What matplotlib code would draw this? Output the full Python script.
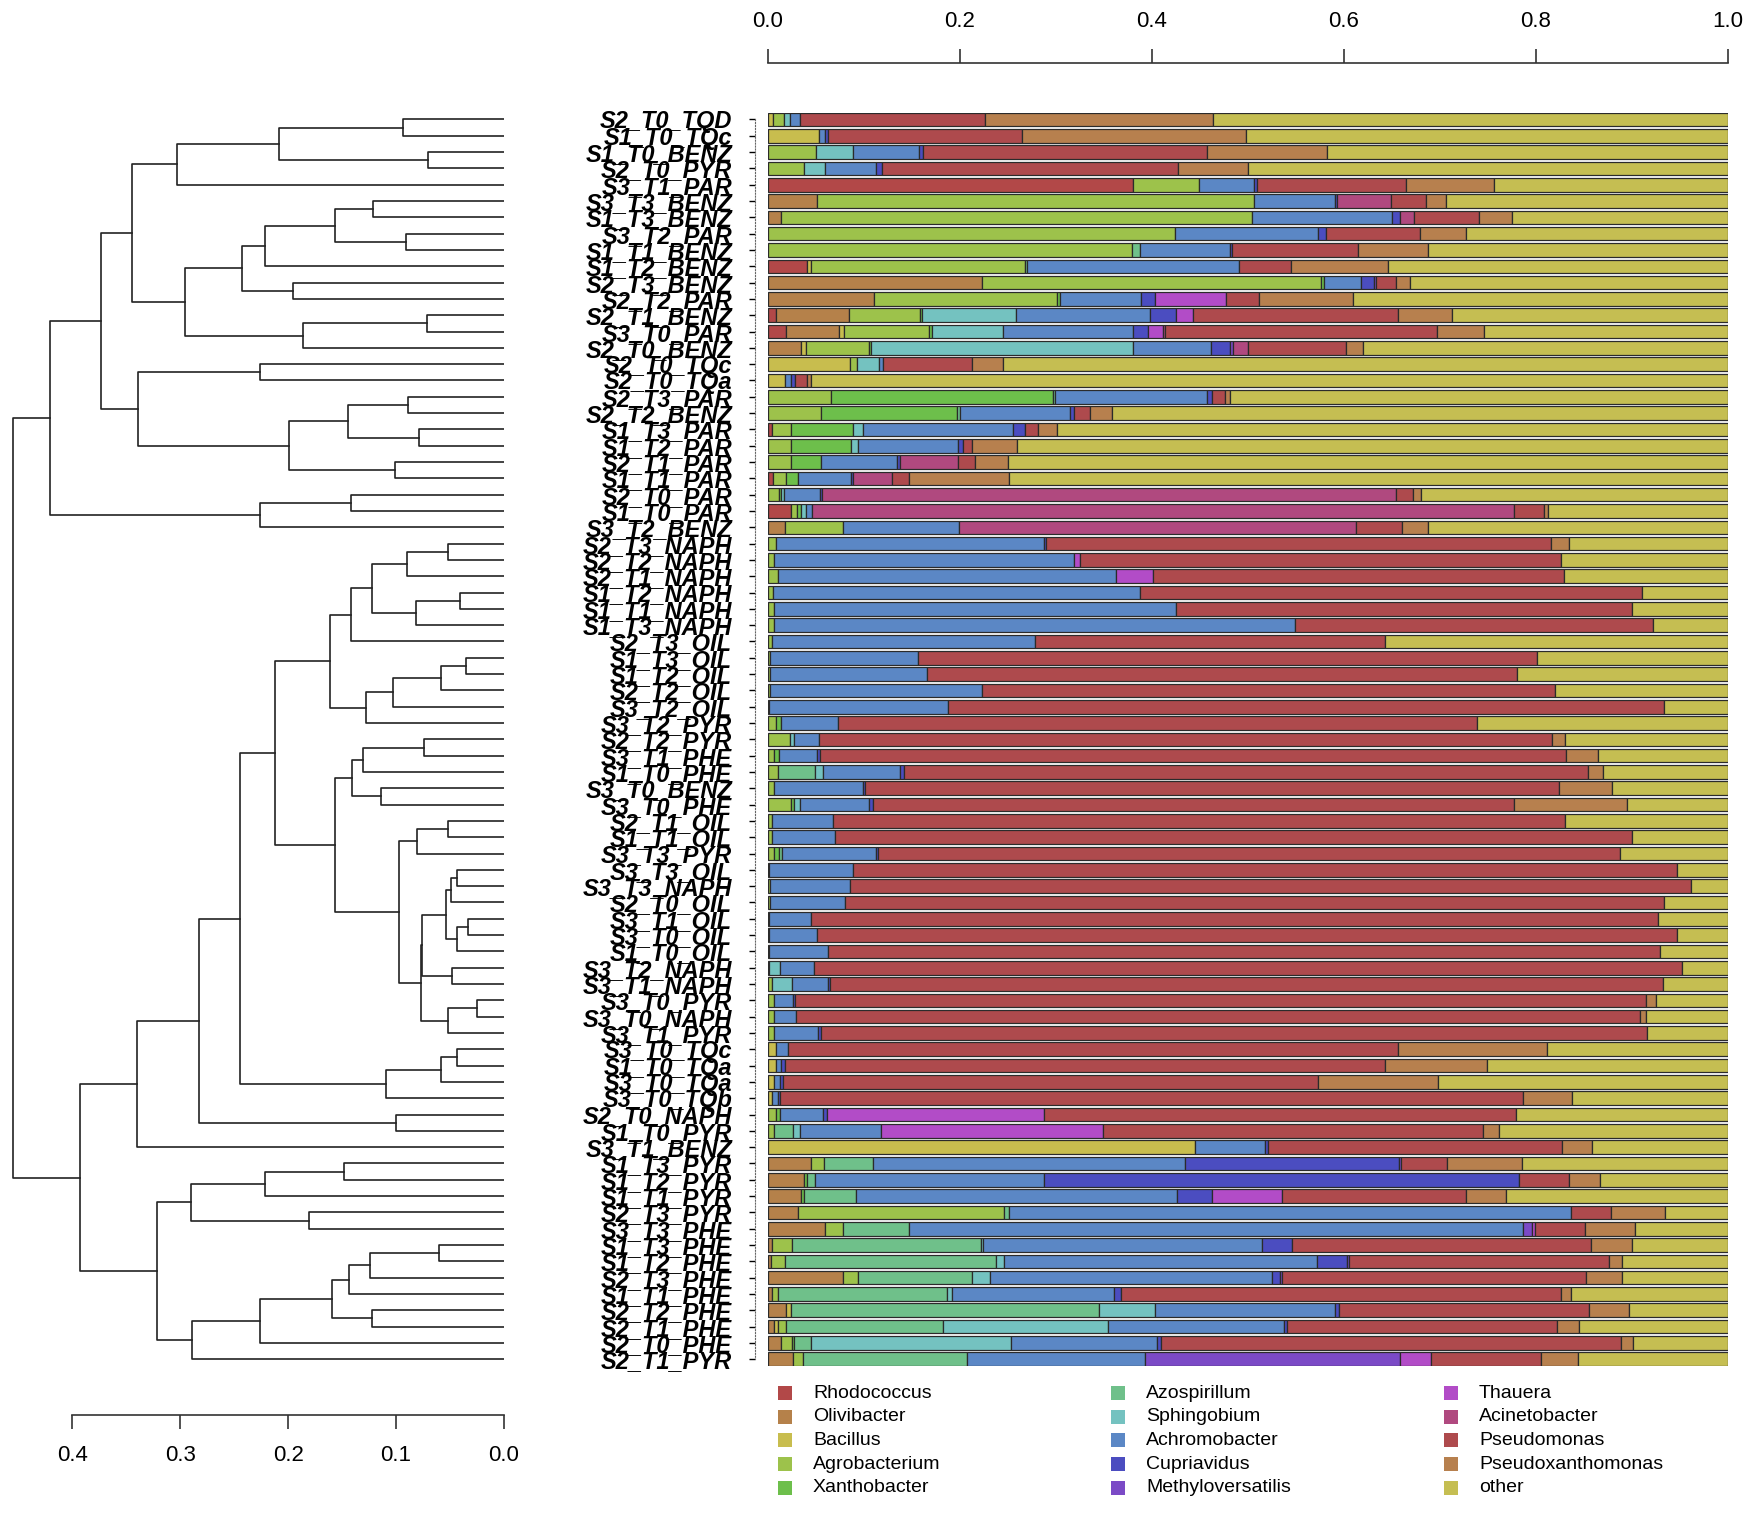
import numpy as np
import matplotlib
matplotlib.use('Agg')
import matplotlib.pyplot as plt
from matplotlib.patches import Rectangle

plt.rcParams['font.family'] = ['Liberation Sans', 'DejaVu Sans']

# sample order (top to bottom), as in the dendrogram
samples = ['S2_T0_TQD', 'S1_T0_TQc', 'S1_T0_BENZ', 'S2_T0_PYR', 'S3_T1_PAR', 'S3_T3_BENZ', 'S1_T3_BENZ',
           'S3_T2_PAR', 'S1_T1_BENZ', 'S1_T2_BENZ', 'S2_T3_BENZ', 'S2_T2_PAR', 'S2_T1_BENZ', 'S3_T0_PAR',
           'S2_T0_BENZ', 'S2_T0_TQc', 'S2_T0_TQa', 'S2_T3_PAR', 'S2_T2_BENZ', 'S1_T3_PAR', 'S1_T2_PAR',
           'S2_T1_PAR', 'S1_T1_PAR', 'S2_T0_PAR', 'S1_T0_PAR', 'S3_T2_BENZ', 'S2_T3_NAPH', 'S2_T2_NAPH',
           'S2_T1_NAPH', 'S1_T2_NAPH', 'S1_T1_NAPH', 'S1_T3_NAPH', 'S2_T3_OIL', 'S1_T3_OIL', 'S1_T2_OIL',
           'S2_T2_OIL', 'S3_T2_OIL', 'S3_T2_PYR', 'S2_T2_PYR', 'S3_T1_PHE', 'S1_T0_PHE', 'S3_T0_BENZ',
           'S3_T0_PHE', 'S2_T1_OIL', 'S1_T1_OIL', 'S3_T3_PYR', 'S3_T3_OIL', 'S3_T3_NAPH', 'S2_T0_OIL',
           'S3_T1_OIL', 'S3_T0_OIL', 'S1_T0_OIL', 'S3_T2_NAPH', 'S3_T1_NAPH', 'S3_T0_PYR', 'S3_T0_NAPH',
           'S3_T1_PYR', 'S3_T0_TQc', 'S1_T0_TQa', 'S3_T0_TQa', 'S3_T0_TQb', 'S2_T0_NAPH', 'S1_T0_PYR',
           'S3_T1_BENZ', 'S1_T3_PYR', 'S1_T2_PYR', 'S1_T1_PYR', 'S2_T3_PYR', 'S3_T3_PHE', 'S1_T3_PHE',
           'S1_T2_PHE', 'S2_T3_PHE', 'S1_T1_PHE', 'S2_T2_PHE', 'S2_T1_PHE', 'S2_T0_PHE', 'S2_T1_PYR']

taxa = ['Rhodococcus', 'Olivibacter', 'Bacillus', 'Agrobacterium', 'Xanthobacter',
        'Azospirillum', 'Sphingobium', 'Achromobacter', 'Cupriavidus', 'Methyloversatilis',
        'Thauera', 'Acinetobacter', 'Pseudomonas', 'Pseudoxanthomonas', 'other']

colours = ['#B24848', '#B5814A', '#C8BD4E', '#9DC24B', '#6DBF4B',
           '#6FC08A', '#74C2C0', '#5B87C5', '#4B4DC0', '#7B4AC6',
           '#B24CC7', '#B0497F', '#AE4A4D', '#B7804E', '#C5BE52']

# relative abundance per genus, one value per sample (same order as samples)
rhodococcus = [0, 0, 0, 0, .380, 0, 0, 0, 0, .041,
               0, 0, .008, .019, 0, 0, 0, 0, 0, .004,
               0, 0, .005, 0, .024, 0, 0, 0, 0, 0,
               0, 0, 0, 0, 0, 0, 0, 0, 0, 0,
               0, 0, 0, 0, 0, 0, 0, 0, 0, 0,
               0, 0, 0, 0, 0, 0, 0, 0, 0, 0,
               0, 0, 0, 0, 0, 0, 0, 0, 0, 0,
               0, 0, 0, 0, 0, 0, 0]
olivibacter = [0, 0, 0, 0, 0, .051, .014, 0, 0, 0,
               .223, .110, .076, .055, .034, 0, 0, 0, 0, 0,
               0, 0, 0, 0, 0, .018, 0, 0, 0, 0,
               0, 0, 0, 0, 0, 0, 0, 0, 0, 0,
               0, 0, 0, 0, 0, 0, 0, 0, 0, 0,
               0, 0, 0, 0, 0, 0, 0, 0, 0, 0,
               0, 0, 0, 0, .045, .038, .034, .031, .059, .004,
               .003, .078, .004, .019, .006, .014, .026]
bacillus = [.005, .053, 0, 0, 0, 0, 0, 0, 0, .004,
            0, 0, 0, .005, .006, .085, .018, 0, 0, 0,
            0, 0, 0, 0, 0, 0, 0, 0, 0, 0,
            0, 0, 0, 0, 0, 0, 0, 0, 0, 0,
            0, 0, 0, 0, 0, 0, 0, 0, 0, 0,
            0, 0, 0, 0, 0, 0, 0, .008, .008, .006,
            .004, 0, 0, .445, 0, 0, 0, 0, 0, 0,
            0, 0, 0, .005, .004, 0, 0]
agrobacterium = [.012, 0, .050, .038, .069, .455, .490, .424, .379, .223,
                 .353, .191, .074, .089, .065, .008, 0, .066, .055, .020,
                 .024, .024, .014, .011, .006, .060, .008, .006, .010, .005,
                 .006, .006, .004, .002, .002, .002, .001, .008, .023, .006,
                 .010, .006, .024, .004, .004, .006, .001, .002, .002, .001,
                 .001, .001, .001, .004, .006, .006, .006, 0, 0, 0,
                 0, .008, .006, 0, .013, 0, 0, .215, .019, .021,
                 .015, .016, .006, 0, .009, .011, .010]
xanthobacter = [0, 0, 0, 0, 0, 0, 0, 0, 0, 0,
                .003, .003, .002, .003, .002, 0, 0, .231, .142, .065,
                .062, .031, .012, .003, .004, 0, 0, 0, 0, 0,
                0, 0, 0, 0, 0, 0, 0, .006, 0, .005,
                0, 0, .003, 0, 0, .005, 0, 0, 0, 0,
                0, 0, 0, 0, 0, 0, 0, 0, 0, 0,
                0, .004, 0, 0, 0, .003, .003, 0, 0, 0,
                0, 0, 0, 0, 0, .002, 0]
azospirillum = [0, 0, 0, 0, 0, 0, 0, 0, .008, .002,
                0, 0, 0, 0, 0, 0, 0, .002, .003, 0,
                0, 0, 0, 0, 0, 0, 0, 0, 0, 0,
                0, 0, 0, 0, 0, 0, 0, 0, 0, 0,
                .039, 0, 0, 0, 0, .004, 0, 0, 0, 0,
                0, 0, 0, 0, 0, 0, 0, 0, 0, 0,
                0, 0, .020, 0, .051, .008, .055, .005, .069, .197,
                .220, .119, .176, .321, .163, .018, .171]
sphingobium = [.006, 0, .039, .021, 0, 0, 0, 0, 0, 0,
               0, 0, .098, .074, .273, .023, 0, 0, 0, .010,
               .008, 0, 0, .003, .006, 0, 0, 0, 0, 0,
               0, 0, 0, 0, 0, 0, 0, 0, .004, 0,
               .008, 0, .006, 0, 0, 0, 0, 0, 0, 0,
               0, 0, .011, .021, 0, 0, 0, 0, 0, 0,
               0, 0, .007, 0, 0, 0, 0, 0, 0, .002,
               .008, .018, .006, .058, .172, .208, 0]
achromobacter = [.010, .006, .068, .054, .057, .085, .146, .149, .094, .221,
                 .039, .085, .140, .135, .081, .004, .006, .158, .115, .156,
                 .104, .079, .055, .037, .006, .121, .279, .313, .352, .383,
                 .419, .543, .274, .154, .164, .221, .187, .059, .026, .040,
                 .081, .093, .072, .064, .066, .098, .088, .083, .078, .044,
                 .050, .062, .036, .038, .020, .023, .046, .013, .006, .006,
                 .006, .045, .085, .073, .325, .238, .334, .585, .639, .291,
                 .326, .294, .168, .188, .183, .152, .186]
cupriavidus = [0, .004, .004, .006, .003, .002, .008, .008, .002, 0,
               .013, .014, .027, .016, .020, 0, .004, .006, .004, .013,
               .005, .003, .003, .002, 0, 0, .003, 0, 0, 0,
               0, 0, 0, 0, 0, 0, 0, 0, 0, .003,
               .004, .002, .004, 0, 0, .002, 0, 0, 0, 0,
               0, 0, 0, .002, .002, 0, .003, 0, .004, .004,
               .002, .004, 0, .003, .223, .495, .037, 0, 0, .031,
               .031, .008, .008, .004, .004, .004, 0]
methyloversatilis = [0, 0, 0, 0, 0, 0, 0, 0, 0, 0,
                     .002, 0, 0, 0, .003, 0, 0, 0, 0, 0,
                     0, 0, 0, 0, 0, 0, 0, 0, 0, 0,
                     0, 0, 0, 0, 0, 0, 0, 0, 0, 0,
                     0, 0, 0, 0, 0, 0, 0, 0, 0, 0,
                     0, 0, 0, 0, 0, 0, 0, 0, 0, 0,
                     0, 0, 0, 0, .002, 0, 0, 0, .010, 0,
                     .002, .002, 0, 0, 0, 0, .265]
thauera = [0, 0, 0, 0, 0, 0, 0, 0, 0, 0,
           0, .074, .018, .015, 0, 0, 0, 0, 0, 0,
           0, 0, 0, 0, 0, 0, 0, .006, .039, 0,
           0, 0, 0, 0, 0, 0, 0, 0, 0, 0,
           0, 0, 0, 0, 0, 0, 0, 0, 0, 0,
           0, 0, 0, 0, 0, 0, 0, 0, 0, 0,
           0, .226, .231, 0, 0, 0, .072, 0, .003, 0,
           0, 0, 0, 0, 0, 0, .033]
acinetobacter = [0, 0, 0, 0, 0, .056, .015, 0, 0, 0,
                 0, 0, 0, .003, .016, 0, 0, 0, 0, 0,
                 0, .061, .040, .598, .731, .413, 0, 0, 0, 0,
                 0, 0, 0, 0, 0, 0, 0, 0, 0, 0,
                 0, 0, 0, 0, 0, 0, 0, 0, 0, 0,
                 0, 0, 0, 0, 0, 0, 0, 0, 0, 0,
                 0, 0, 0, 0, 0, 0, 0, 0, 0, 0,
                 0, 0, 0, 0, 0, 0, 0]
pseudomonas = [.193, .202, .296, .308, .156, .036, .068, .098, .132, .054,
               .021, .034, .213, .283, .102, .092, .013, .013, .016, .013,
               .010, .018, .018, .018, .031, .048, .526, .501, .428, .522,
               .475, .373, .365, .645, .614, .597, .745, .666, .764, .777,
               .712, .723, .668, .762, .830, .772, .858, .876, .853, .882,
               .896, .866, .904, .867, .887, .879, .861, .635, .625, .557,
               .774, .492, .396, .306, .048, .052, .192, .042, .052, .311,
               .271, .317, .458, .260, .281, .480, .114]
pseudoxanthomonas = [.238, .233, .125, .073, .091, .021, .034, .048, .072, .101,
                     .015, .098, .057, .049, .018, .033, .004, .005, .023, .020,
                     .046, .034, .104, .008, .005, .028, .018, 0, 0, 0,
                     0, 0, 0, 0, 0, 0, 0, 0, .013, .034,
                     .016, .055, .118, 0, 0, 0, 0, 0, 0, 0,
                     0, 0, 0, 0, .010, .007, 0, .155, .106, .125,
                     .052, 0, .016, .031, .078, .033, .042, .056, .052, .043,
                     .014, .038, .010, .042, .023, .012, .039]
other = [.536, .502, .418, .500, .244, .294, .225, .273, .313, .354,
         .331, .391, .287, .254, .380, .755, .955, .519, .642, .699,
         .741, .750, .749, .320, .187, .312, .166, .174, .171, .090,
         .100, .078, .357, .199, .220, .180, .067, .261, .170, .135,
         .130, .121, .105, .170, .100, .113, .053, .039, .067, .073,
         .053, .071, .048, .068, .075, .085, .084, .189, .251, .302,
         .162, .221, .239, .142, .215, .133, .231, .066, .097, .100,
         .110, .110, .164, .103, .155, .099, .156]

# hierarchical clustering merges: (node a, node b, height); leaves are 0..76
merges = [(0, 1, .094), (2, 3, .070), (77, 78, .209), (79, 4, .303), (5, 6, .121),
          (7, 8, .091), (81, 82, .157), (83, 9, .222), (10, 11, .196), (84, 85, .243),
          (12, 13, .071), (87, 14, .186), (86, 88, .296), (80, 89, .345), (15, 16, .226),
          (17, 18, .089), (19, 20, .079), (92, 93, .145), (21, 22, .101), (94, 95, .199),
          (91, 96, .339), (90, 97, .374), (23, 24, .142), (99, 25, .226), (98, 100, .421),
          (26, 27, .052), (102, 28, .090), (29, 30, .041), (104, 31, .082), (103, 105, .122),
          (106, 32, .142), (33, 34, .035), (108, 35, .058), (109, 36, .103), (110, 37, .128),
          (107, 111, .161), (38, 39, .074), (113, 40, .131), (41, 42, .114), (114, 115, .141),
          (43, 44, .052), (117, 45, .081), (46, 47, .044), (119, 48, .049), (49, 50, .033),
          (121, 51, .044), (120, 122, .054), (52, 53, .048), (123, 124, .0757), (54, 55, .025),
          (126, 56, .052), (125, 127, .0772), (118, 128, .097), (116, 129, .157), (112, 130, .212),
          (57, 58, .044), (132, 59, .058), (133, 60, .109), (131, 134, .245), (61, 62, .100),
          (135, 136, .283), (137, 63, .340), (64, 65, .148), (139, 66, .222), (67, 68, .181),
          (140, 141, .290), (69, 70, .060), (143, 71, .124), (144, 72, .144), (73, 74, .122),
          (145, 146, .159), (147, 75, .226), (148, 76, .289), (142, 149, .322), (138, 150, .393),
          (101, 151, .455)]

series = [rhodococcus, olivibacter, bacillus, agrobacterium, xanthobacter, azospirillum,
          sphingobium, achromobacter, cupriavidus, methyloversatilis, thauera, acinetobacter,
          pseudomonas, pseudoxanthomonas, other]

W, H = 1750, 1525
fig = plt.figure(figsize=(W / 100, H / 100), dpi=100)

n = len(samples)
bar_top, bar_bot = 112.7, 1366.0
ylo, yhi = n - 1 + 0.4167, -0.4167

# ---- stacked bars ----
ax = fig.add_axes([768 / W, 1 - bar_bot / H, 960 / W, (bar_bot - bar_top) / H])
y = np.arange(n)
left = np.zeros(n)
for vals, col in zip(series, colours):
    v = np.array(vals, dtype=float)
    m = v > 0
    ax.barh(y[m], v[m], left=left[m], height=0.833, color=col,
            edgecolor='#2b2b2b', linewidth=0.9)
    left += v
ax.set_xlim(0, 1)
ax.set_ylim(ylo, yhi)

# spine positions first (set_position resets the ticks)
ax.spines['top'].set_position(('outward', 36))
ax.spines['top'].set_bounds(0, 1)
ax.spines['top'].set_linewidth(1.2)
ax.spines['top'].set_color('#333333')
ax.spines['right'].set_visible(False)
ax.spines['bottom'].set_visible(False)
ax.spines['left'].set_position(('outward', 9.5))
ax.spines['left'].set_bounds(0, n - 1)
ax.spines['left'].set_linestyle(':')
ax.spines['left'].set_color('#666666')

ax.xaxis.tick_top()
ax.set_xticks([0, 0.2, 0.4, 0.6, 0.8, 1.0])
ax.set_xticklabels(['0.0', '0.2', '0.4', '0.6', '0.8', '1.0'])
ax.tick_params(axis='x', length=10, width=1.2, labelsize=16, pad=12, color='#333333')

ax.set_yticks(y)
ax.tick_params(axis='y', length=4.3, width=1.0, pad=12, labelsize=17)
ax.set_yticklabels(samples, fontsize=17, fontweight='bold', fontstyle='italic')

# ---- dendrogram ----
dax = fig.add_axes([0, 1 - bar_bot / H, 504 / W, (bar_bot - bar_top) / H])
pos = {i: (0.0, float(i)) for i in range(n)}
for k, (a, b, h) in enumerate(merges):
    ha, ya = pos[a]
    hb, yb = pos[b]
    dax.plot([ha, h, h, hb], [ya, ya, yb, yb], color='#222222', lw=1.2)
    pos[n + k] = (h, (ya + yb) / 2)
dax.set_xlim(0.4 + 72.5 / 431.5 * 0.4, 0)
dax.set_ylim(ylo, yhi)
for s in ['top', 'right', 'left']:
    dax.spines[s].set_visible(False)
dax.spines['bottom'].set_position(('outward', 35))
dax.spines['bottom'].set_bounds(0, 0.4)
dax.spines['bottom'].set_linewidth(1.2)
dax.spines['bottom'].set_color('#333333')
dax.set_yticks([])
dax.set_xticks([0.4, 0.3, 0.2, 0.1, 0.0])
dax.set_xticklabels(['0.4', '0.3', '0.2', '0.1', '0.0'])
dax.tick_params(axis='x', length=10, width=1.2, labelsize=16, pad=12, color='#333333')
dax.patch.set_alpha(0)

# ---- legend ----
col_x = [785, 1118, 1451]
for k, (name, col) in enumerate(zip(taxa, colours)):
    cx = col_x[k // 5]
    cy = 1393 + (k % 5) * 23.7
    fig.add_artist(Rectangle(((cx - 7) / W, 1 - (cy + 7) / H), 14 / W, 14 / H,
                             transform=fig.transFigure, facecolor=col, edgecolor='none'))
    fig.text((cx + 28) / W, 1 - cy / H, name, va='center', ha='left', fontsize=14)

fig.savefig('out.png', dpi=100)
